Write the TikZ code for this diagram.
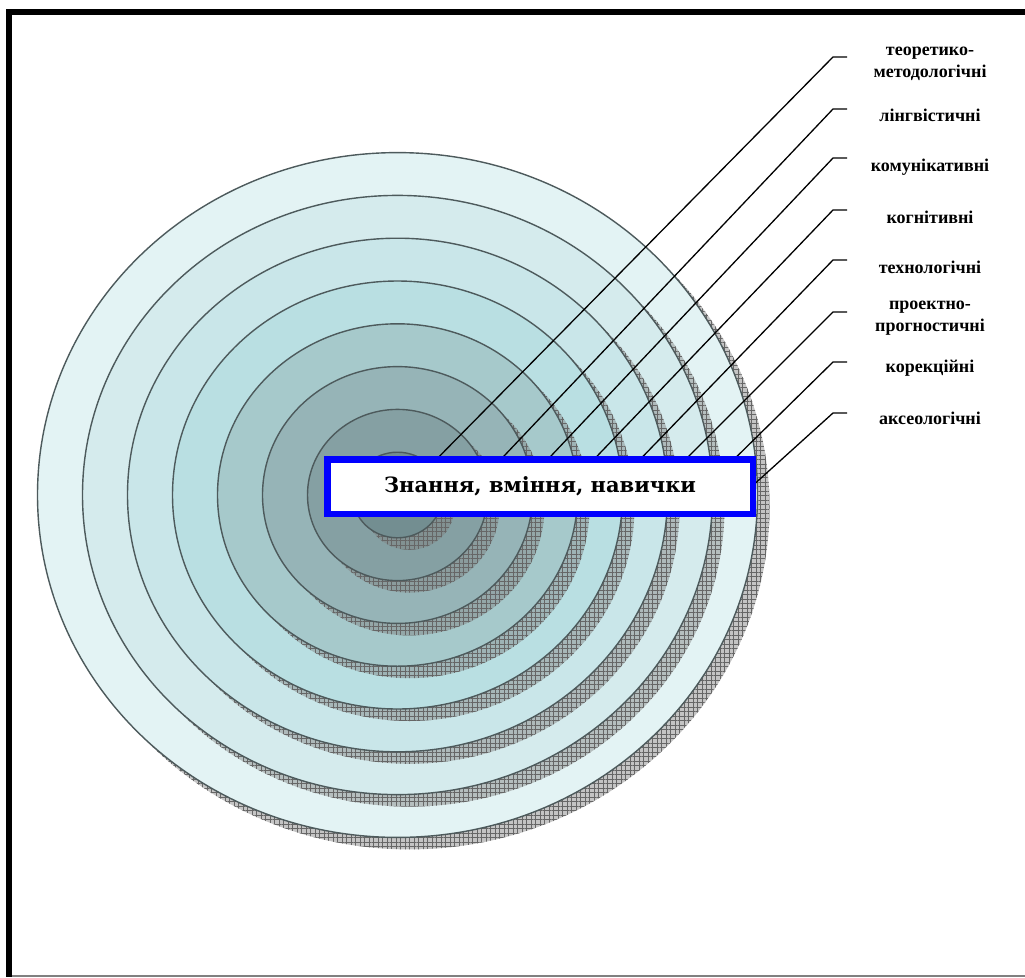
\documentclass[tikz,border=0pt]{standalone}
\usepackage{fontspec}
\setmainfont{Liberation Serif}
\newfontfamily\boxfont{DejaVu Serif}
\usetikzlibrary{patterns.meta}
\definecolor{ca}{HTML}{E3F3F4}
\definecolor{cb}{HTML}{D5EBED}
\definecolor{cc}{HTML}{C9E6E9}
\definecolor{cd}{HTML}{B9DFE2}
\definecolor{ce}{HTML}{A6C9CB}
\definecolor{cf}{HTML}{96B4B7}
\definecolor{cg}{HTML}{85A0A3}
\definecolor{ch}{HTML}{738E91}
\definecolor{ringline}{HTML}{4D5A5C}
\tikzset{
  ringshadow/.style={fill=black!50, fill opacity=0.46},
  ringgrid/.style={pattern={Hatch[angle=0,distance=4.5pt,line width=0.45pt]}, pattern color=black!60, fill opacity=0.4},
  ring/.style={draw=ringline, line width=1.4pt},
  lbl/.style={font=\bfseries\fontsize{18}{22}\selectfont, align=center, inner sep=0pt},
  leader/.style={draw=black, line width=1.3pt},
  centerbox/.style={draw=blue, line width=6.5pt, fill=white, minimum width=425.5pt, minimum height=54.5pt, inner sep=0pt, font=\boxfont\bfseries\fontsize{21}{24}\selectfont}
}
\begin{document}
\begin{tikzpicture}[x=1pt,y=-1pt]
\useasboundingbox (0,0) rectangle (1025,977);
\fill[white] (0,0) rectangle (1025,977);
% rings with shadows, outer to inner
\foreach \k/\col in {8/ca,7/cb,6/cc,5/cd,4/ce,3/cf,2/cg,1/ch}{
  \pgfmathsetmacro{\rx}{45*\k}
  \pgfmathsetmacro{\ry}{42.8*\k}
  \fill[ringshadow] (409.5,507) ellipse [x radius=\rx pt, y radius=\ry pt];
  \fill[ringgrid] (409.5,507) ellipse [x radius=\rx pt, y radius=\ry pt];
  \filldraw[ring, fill=\col] (397.5,495) ellipse [x radius=\rx pt, y radius=\ry pt];
}
% labels
\node[lbl] (l1) at (930,64) {теоретико-\\методологічні};
\node[lbl] (l2) at (930,115) {лінгвістичні};
\node[lbl] (l3) at (930,167) {комунікативні};
\node[lbl] (l4) at (930,217) {когнітивні};
\node[lbl] (l5) at (930,267) {технологічні};
\node[lbl] (l6) at (930,318) {проектно-\\прогностичні};
\node[lbl] (l7) at (930,368) {корекційні};
\node[lbl] (l8) at (930,418) {аксеологічні};
% leader coordinates
\coordinate (a1) at (847,57);  \coordinate (b1) at (833,57);  \coordinate (t1) at (421,475);
\coordinate (a2) at (847,109); \coordinate (b2) at (833,109); \coordinate (t2) at (486,475);
\coordinate (a3) at (847,158); \coordinate (b3) at (833,158); \coordinate (t3) at (533,475);
\coordinate (a4) at (847,210); \coordinate (b4) at (833,210); \coordinate (t4) at (579,475);
\coordinate (a5) at (847,260); \coordinate (b5) at (833,260); \coordinate (t5) at (625,475);
\coordinate (a6) at (847,312); \coordinate (b6) at (833,312); \coordinate (t6) at (670,475);
\coordinate (a7) at (847,362); \coordinate (b7) at (833,362); \coordinate (t7) at (718,475);
\coordinate (a8) at (847,413); \coordinate (b8) at (833,413); \coordinate (t8) at (750,488);
\foreach \i in {1,...,8}{
  \draw[leader] (a\i) -- (b\i) -- (t\i);
}
% centre box
\node[centerbox] (box) at (540,486.5) {Знання, вміння, навички};
% frame
\fill[black] (6,9) rectangle (1025,15);
\fill[black] (6,9) rectangle (12,977);
\draw[black!50, line width=1.5pt] (12,976) -- (1025,976);
\end{tikzpicture}
\end{document}
